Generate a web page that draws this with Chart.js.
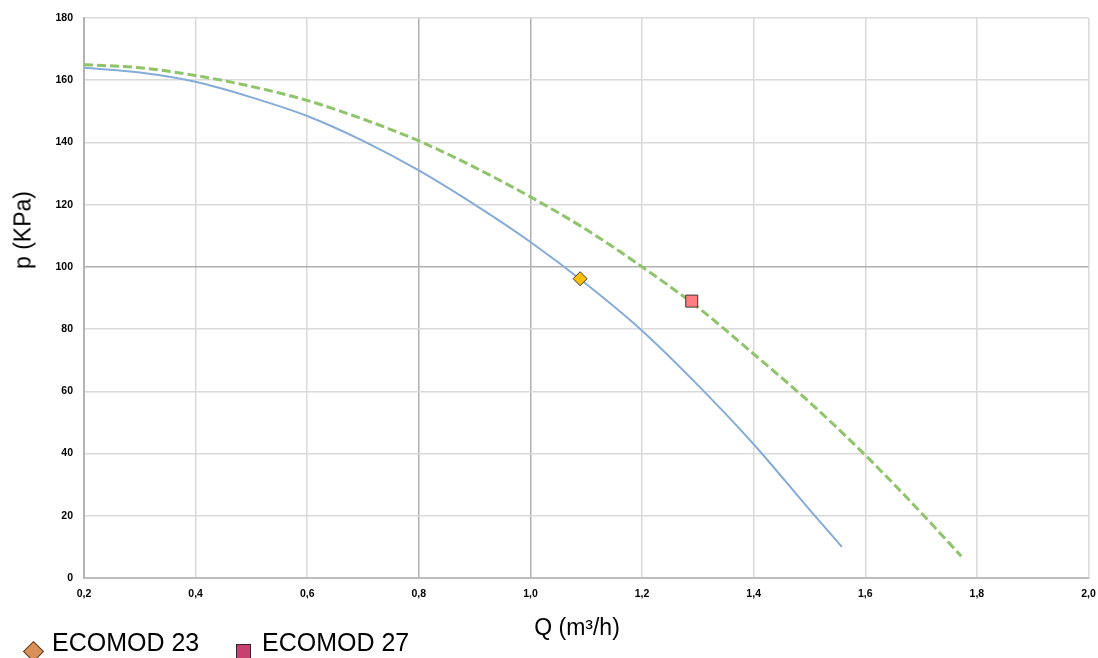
<!DOCTYPE html>
<html>
<head>
<meta charset="utf-8">
<script src="https://cdn.jsdelivr.net/npm/chart.js@4.4.1/dist/chart.umd.min.js"></script>
<style>
  html, body { margin: 0; padding: 0; background: #fff; }
  #wrap { position: relative; width: 1098px; height: 658px; overflow: hidden; font-family: "Liberation Sans", Arial, sans-serif; }
  canvas { position: absolute; left: 0; top: 0; }
  .ytitle { position: absolute; left: 23px; top: 230px; transform: translate(-50%, -50%) rotate(-90deg); font-size: 23px; color: #000; white-space: nowrap; }
  .xtitle { position: absolute; left: 577px; top: 614px; transform: translateX(-50%); font-size: 23px; color: #000; white-space: nowrap; }
  .leg { position: absolute; top: 628px; font-size: 25px; color: #000; white-space: nowrap; }
  .diam { position: absolute; left: 26px; top: 644px; width: 13px; height: 13px; background: #d99059; border: 1px solid #5a3a20; transform: rotate(45deg); }
  .sq { position: absolute; left: 236px; top: 644px; width: 13px; height: 13px; background: #c8406e; border: 1px solid #3a2030; }
</style>
</head>
<body>
<div id="wrap">
  <canvas id="c" width="1098" height="658"></canvas>
  <div class="ytitle">p (KPa)</div>
  <div class="xtitle">Q (m³/h)</div>
  <div class="diam"></div>
  <div class="leg" style="left:52px">ECOMOD 23</div>
  <div class="sq"></div>
  <div class="leg" style="left:262px">ECOMOD 27</div>
</div>
<script>
// Curve ECOMOD 23 (solid blue)
const q23 = [0.2, 0.3, 0.4, 0.5, 0.6, 0.7, 0.8, 0.9, 1.0, 1.1, 1.2, 1.3, 1.4, 1.5, 1.558];
const p23 = [164, 162.5, 159.5, 154.5, 148.5, 140.5, 131, 120, 108, 94.5, 79.5, 62, 43, 22, 10];
// Curve ECOMOD 27 (dashed green)
const q27 = [0.2, 0.3, 0.4, 0.5, 0.6, 0.7, 0.8, 0.9, 1.0, 1.1, 1.2, 1.3, 1.4, 1.5, 1.6, 1.7, 1.772];
const p27 = [165, 164, 161.5, 158, 153.5, 147.5, 140.5, 132, 122.5, 112, 100, 87, 72, 56.5, 39.5, 21, 7];
// Operating points
const op23 = { q: 1.089, p: 96.2 };
const op27 = { q: 1.289, p: 89.0 };
// Axis ranges
const xMin = 0.2, xMax = 2.0, xStep = 0.2;
const yMin = 0, yMax = 180, yStep = 20;

const toPts = (xs, ys) => xs.map((x, i) => ({ x: x, y: ys[i] }));

const darkX = [0.8, 1.0];
const darkY = [100];

new Chart(document.getElementById('c'), {
  type: 'scatter',
  data: {
    datasets: [
      {
        label: 'ECOMOD 23 point',
        data: [{ x: op23.q, y: op23.p }],
        pointStyle: 'rectRot',
        pointRadius: 7,
        backgroundColor: '#ffc000',
        borderColor: '#3a3a3a',
        borderWidth: 1,
        order: 0
      },
      {
        label: 'ECOMOD 27 point',
        data: [{ x: op27.q, y: op27.p }],
        pointStyle: 'rect',
        pointRadius: 8.5,
        backgroundColor: '#ff7c80',
        borderColor: '#3a3a3a',
        borderWidth: 1,
        order: 0
      },
      {
        label: 'ECOMOD 23',
        data: toPts(q23, p23),
        showLine: true,
        borderColor: '#85acd9',
        borderWidth: 2,
        pointRadius: 0,
        cubicInterpolationMode: 'monotone',
        order: 2
      },
      {
        label: 'ECOMOD 27',
        data: toPts(q27, p27),
        showLine: true,
        borderColor: '#8fc46a',
        borderWidth: 3,
        borderDash: [9, 4],
        pointRadius: 0,
        cubicInterpolationMode: 'monotone',
        order: 1
      }
    ]
  },
  options: {
    responsive: false,
    animation: false,
    devicePixelRatio: 1,
    layout: { padding: { left: 0, right: 8, top: 18, bottom: 0 } },
    plugins: { legend: { display: false }, tooltip: { enabled: false } },
    scales: {
      x: {
        type: 'linear',
        min: xMin, max: xMax,
        afterFit: (s) => { s.height = 80; s.paddingLeft = 0; s.paddingRight = 0; },
        ticks: {
          stepSize: xStep,
          padding: 10,
          color: '#000',
          font: { family: 'Liberation Sans', size: 10.5, weight: 'bold' },
          callback: (v) => v.toFixed(1).replace('.', ',')
        },
        grid: {
          drawTicks: false,
          lineWidth: 1.5,
          color: (ctx) => {
            const v = ctx.tick ? Math.round(ctx.tick.value * 10) / 10 : null;
            return darkX.includes(v) ? '#b0b0b0' : '#dadada';
          }
        },
        border: { color: '#bdbdbd', width: 2 }
      },
      y: {
        min: yMin, max: yMax,
        afterFit: (s) => { s.width = 84; s.paddingTop = 0; s.paddingBottom = 0; },
        ticks: {
          stepSize: yStep,
          padding: 11,
          color: '#000',
          font: { family: 'Liberation Sans', size: 10.5, weight: 'bold' }
        },
        grid: {
          drawTicks: false,
          lineWidth: 1.5,
          color: (ctx) => {
            const v = ctx.tick ? ctx.tick.value : null;
            return darkY.includes(v) ? '#b0b0b0' : '#dadada';
          }
        },
        border: { color: '#b3b3b3', width: 2 }
      }
    }
  }
});
</script>
</body>
</html>
